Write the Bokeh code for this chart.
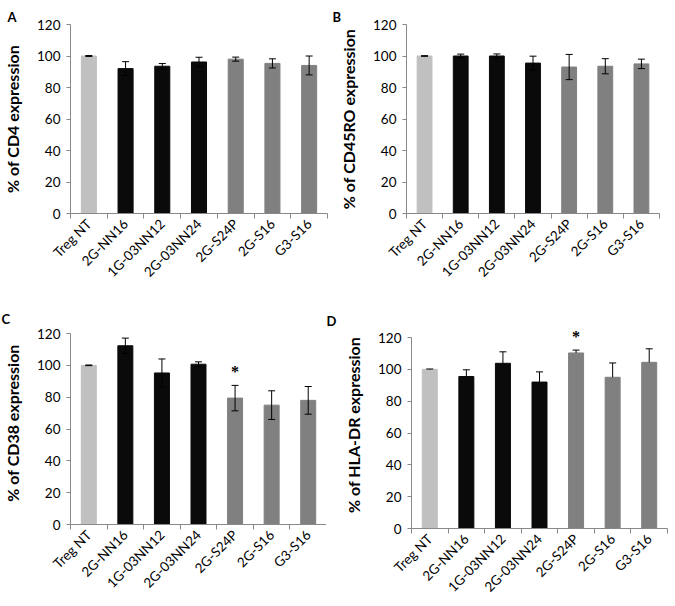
import math
from bokeh.plotting import figure
from bokeh.models import (ColumnDataSource, Range1d, FixedTicker, Whisker, TeeHead,
                          LabelSet)
from bokeh.layouts import column, row
from bokeh.embed import file_html
from bokeh.resources import INLINE

categories = ["Treg NT", "2G-NN16", "1G-03NN12", "2G-03NN24", "2G-S24P", "2G-S16", "G3-S16"]
bar_colors = ["#c0c0c0", "#0a0a0a", "#0a0a0a", "#0a0a0a", "#808080", "#808080", "#808080"]

cd4_mean = [100, 92.0, 93.5, 96.2, 98.0, 95.3, 94.0]
cd4_err = [0.3, 4.4, 1.7, 3.0, 1.3, 2.9, 6.0]

cd45ro_mean = [100, 100.0, 100.0, 95.5, 93.0, 93.5, 95.0]
cd45ro_err = [0.2, 1.2, 1.3, 4.4, 8.0, 4.8, 3.0]

cd38_mean = [100, 112.3, 95.2, 100.7, 79.4, 75.0, 78.0]
cd38_err = [0.2, 4.8, 8.8, 1.5, 8.0, 9.0, 8.7]
cd38_sig = ["", "", "", "", "*", "", ""]

hladr_mean = [100, 95.5, 103.8, 92.0, 110.3, 95.0, 104.4]
hladr_err = [0.2, 4.2, 7.2, 6.4, 1.8, 9.0, 8.5]
hladr_sig = ["", "", "", "", "*", "", ""]

y_ticks = [0, 20, 40, 60, 80, 100, 120]
panel_letters = ["A", "B", "C", "D"]

FONT = "Lato"
Y_MAX = 120


def make_panel(letter, ylabel, means, errs, sig, lower_caps, borders, frame_w, frame_h,
               extra_top=0):
    # extra_top: pixels of plotting room above the 120 line (axis stops at 120)
    left, right, top, bottom = borders
    n = len(categories)
    xs = list(range(1, n + 1))
    y_end = Y_MAX * (frame_h + extra_top) / frame_h
    p = figure(frame_width=frame_w, frame_height=frame_h + extra_top,
               min_border_left=left, min_border_right=right,
               min_border_top=top - extra_top, min_border_bottom=bottom,
               x_range=Range1d(0.5, n + 0.5), y_range=Range1d(0, y_end),
               output_backend="svg", toolbar_location=None, tools="")
    p.outline_line_color = None
    p.grid.visible = False
    p.background_fill_color = "white"
    p.border_fill_color = "white"

    # panel letter as the title, shifted to the canvas' left edge
    p.title.text = letter
    p.title.align = "left"
    p.title.offset = -left
    p.title.standoff = -max(extra_top - 2, 0)
    p.title.text_font = FONT
    p.title.text_font_size = "13px"
    p.title.text_font_style = "bold"
    p.title.text_color = "black"

    upper = [m + e for m, e in zip(means, errs)]
    lower = [m - e for m, e in zip(means, errs)] if lower_caps else list(means)
    src = ColumnDataSource(dict(x=xs, top=means, color=bar_colors,
                                upper=upper, lower=lower,
                                sig=sig if sig else [""] * n))
    p.vbar(x="x", top="top", bottom=0, width=0.41, fill_color="color",
           line_color="color", source=src)

    w = Whisker(source=src, base="x", upper="upper", lower="lower",
                line_color="black", line_width=1,
                upper_head=TeeHead(size=7, line_color="black", line_width=1),
                lower_head=TeeHead(size=7, line_color="black", line_width=1) if lower_caps else None,
                level="annotation")
    p.add_layout(w)

    if sig:
        ls = LabelSet(x="x", y="upper", text="sig", source=src, text_align="center",
                      text_baseline="bottom", y_offset=5, text_font=FONT,
                      text_font_size="16px", text_font_style="bold", text_color="black")
        p.add_layout(ls)

    # x axis
    xa = p.xaxis[0]
    xa.ticker = FixedTicker(ticks=xs, minor_ticks=[x - 0.5 for x in xs] + [n + 0.5])
    xa.major_label_overrides = {x: c for x, c in zip(xs, categories)}
    xa.major_tick_line_color = None
    xa.minor_tick_line_color = "#888888"
    xa.minor_tick_out = 5
    xa.minor_tick_in = 0
    xa.axis_line_color = "#888888"
    xa.major_label_orientation = math.pi / 4
    xa.major_label_text_font = FONT
    xa.major_label_text_font_size = "13.5px"
    xa.major_label_text_color = "black"
    xa.major_label_standoff = 2

    ya = p.yaxis[0]
    ya.ticker = FixedTicker(ticks=y_ticks, minor_ticks=[])
    ya.bounds = (0, Y_MAX)
    ya.axis_line_color = "#888888"
    ya.major_tick_line_color = "#888888"
    ya.major_tick_out = 4
    ya.major_tick_in = 0
    ya.major_label_text_font = FONT
    ya.major_label_text_font_size = "13.5px"
    ya.major_label_text_color = "black"
    ya.major_label_standoff = 6
    ya.axis_label = ylabel
    ya.axis_label_text_font = FONT
    ya.axis_label_text_font_size = "16px"
    ya.axis_label_text_font_style = "bold"
    ya.axis_label_text_color = "black"
    ya.axis_label_standoff = 12
    return p


pa = make_panel(panel_letters[0], "% of CD4 expression", cd4_mean, cd4_err, None, True,
                (63, 5, 24, 79), 257, 189)
pb = make_panel(panel_letters[1], "% of CD45RO expression", cd45ro_mean, cd45ro_err, None, True,
                (74, 15, 24, 79), 253, 189)
pc = make_panel(panel_letters[2], "% of CD38 expression", cd38_mean, cd38_err, cd38_sig, True,
                (69, 0, 41, 66), 256, 191, extra_top=12)
pd_ = make_panel(panel_letters[3], "% of HLA-DR expression", hladr_mean, hladr_err, hladr_sig, False,
                 (85, 1, 45, 62), 256, 191, extra_top=16)

layout = column(row(pa, pb), row(pc, pd_))

with open("out.html", "w") as f:
    f.write(file_html(layout, INLINE))
